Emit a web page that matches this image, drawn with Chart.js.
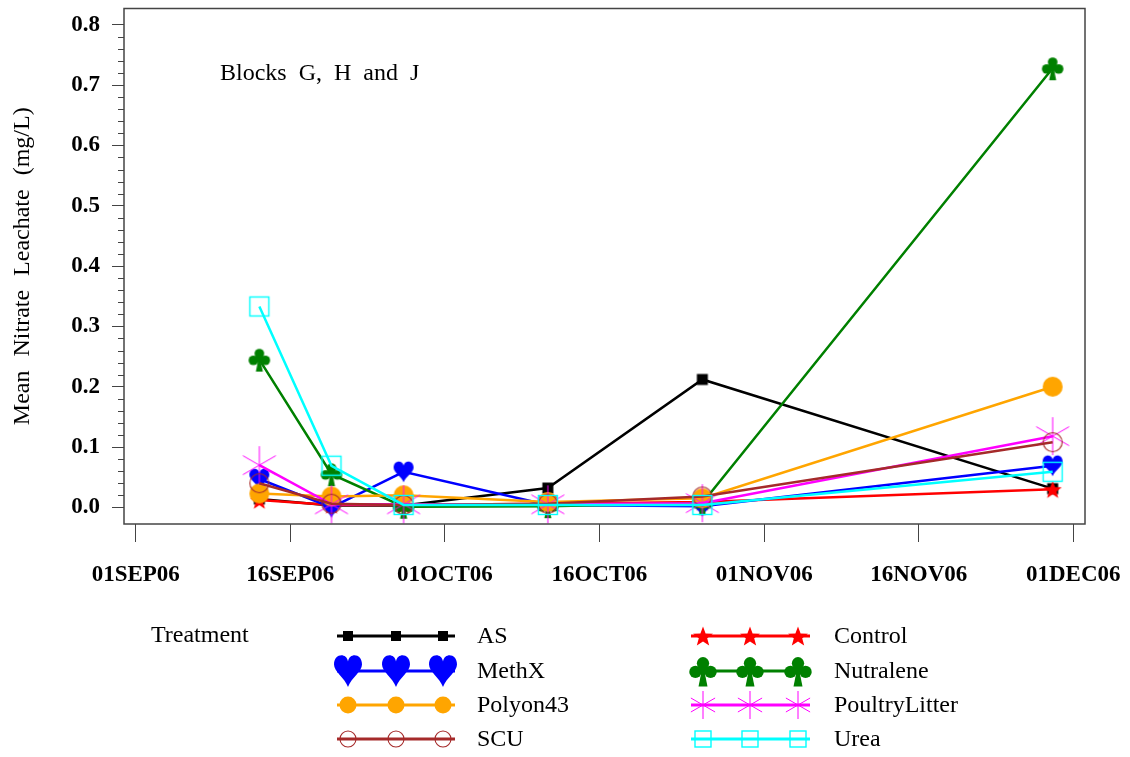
<!DOCTYPE html>
<html>
<head>
<meta charset="utf-8">
<script src="https://cdn.jsdelivr.net/npm/chart.js@4/dist/chart.umd.min.js"></script>
<style>
  html, body { margin: 0; padding: 0; background: #fff; }
  canvas { display: block; }
</style>
</head>
<body>
<canvas id="c" width="1130" height="757"></canvas>
<script>
// Sampling dates and treatment means (mg/L)
const sampleDates = ['2006-09-13', '2006-09-20', '2006-09-27', '2006-10-11', '2006-10-26', '2006-11-29'];

const AS            = [0.014, 0.003, 0.003, 0.032, 0.212, 0.031];
const Control       = [0.012, 0.004, 0.004, 0.006, 0.009, 0.030];
const MethX         = [0.047, 0.000, 0.059, 0.004, 0.002, 0.069];
const Nutralene     = [0.245, 0.055, 0.001, 0.002, 0.007, 0.728];
const Polyon43      = [0.023, 0.018, 0.020, 0.009, 0.015, 0.200];
const PoultryLitter = [0.070, 0.005, 0.005, 0.005, 0.007, 0.118];
const SCU           = [0.040, 0.006, 0.004, 0.006, 0.018, 0.108];
const Urea          = [0.333, 0.069, 0.004, 0.004, 0.004, 0.059];

const treatmentNames = ['AS', 'Control', 'MethX', 'Nutralene', 'Polyon43', 'PoultryLitter', 'SCU', 'Urea'];
const treatmentValues = [AS, Control, MethX, Nutralene, Polyon43, PoultryLitter, SCU, Urea];

const xTickDates  = ['2006-09-01', '2006-09-16', '2006-10-01', '2006-10-16', '2006-11-01', '2006-11-16', '2006-12-01'];
const xTickLabels = ['01SEP06', '16SEP06', '01OCT06', '16OCT06', '01NOV06', '16NOV06', '01DEC06'];
const yTickValues = [0.0, 0.1, 0.2, 0.3, 0.4, 0.5, 0.6, 0.7, 0.8];

const yTitle = 'Mean Nitrate Leachate (mg/L)';
const panelNote = 'Blocks G, H and J';
const legendTitle = 'Treatment';

// ---- helpers ----
const ORIGIN = Date.UTC(2006, 8, 1);
function dayNumber(iso) {
  const [y, m, d] = iso.split('-').map(Number);
  return (Date.UTC(y, m - 1, d) - ORIGIN) / 86400000;
}

const SERIF = "'Liberation Serif', 'Times New Roman', serif";

// per-treatment look: colour, marker kind, plot marker size, legend marker size
const looks = {
  AS:            { color: '#000000', kind: 'square',     plot: [11, 11], legend: [10, 10] },
  Control:       { color: '#ff0000', kind: 'star',       plot: [19, 19], legend: [21, 21] },
  MethX:         { color: '#0000ff', kind: 'heart',      plot: [20, 21], legend: [28, 32] },
  Nutralene:     { color: '#008000', kind: 'club',       plot: [22, 24], legend: [28, 31] },
  Polyon43:      { color: '#ffa500', kind: 'dot',        plot: [20, 20], legend: [17, 17] },
  PoultryLitter: { color: '#ff00ff', kind: 'asterisk',   plot: [38, 38], legend: [28, 28] },
  SCU:           { color: '#a52a2a', kind: 'ring',       plot: [19, 19], legend: [16, 16] },
  Urea:          { color: '#00ffff', kind: 'openSquare', plot: [19, 19], legend: [16, 16] }
};

function drawMarker(ctx, kind, color, cx, cy, w, h) {
  ctx.save();
  ctx.fillStyle = color;
  ctx.strokeStyle = color;
  switch (kind) {
    case 'square':
      ctx.fillRect(cx - w / 2, cy - h / 2, w, h);
      break;
    case 'openSquare':
      ctx.lineWidth = 1.4;
      ctx.strokeRect(cx - w / 2, cy - h / 2, w, h);
      break;
    case 'dot':
      ctx.beginPath(); ctx.arc(cx, cy, w / 2, 0, Math.PI * 2); ctx.fill();
      break;
    case 'ring':
      ctx.lineWidth = 1.1;
      ctx.beginPath(); ctx.arc(cx, cy, w / 2, 0, Math.PI * 2); ctx.stroke();
      break;
    case 'star': {
      const R = w / 2, r = R * 0.42;
      ctx.beginPath();
      for (let i = 0; i < 10; i++) {
        const a = -Math.PI / 2 + i * Math.PI / 5;
        const rr = i % 2 === 0 ? R : r;
        const px = cx + rr * Math.cos(a), py = cy + 1 + rr * Math.sin(a);
        if (i === 0) ctx.moveTo(px, py); else ctx.lineTo(px, py);
      }
      ctx.closePath(); ctx.fill();
      break;
    }
    case 'heart': {
      ctx.beginPath();
      ctx.moveTo(cx, cy + h * 0.5);
      ctx.bezierCurveTo(cx - w * 0.12, cy + h * 0.22, cx - w * 0.5, cy + h * 0.02, cx - w * 0.5, cy - h * 0.2);
      ctx.bezierCurveTo(cx - w * 0.5, cy - h * 0.55, cx - w * 0.06, cy - h * 0.58, cx, cy - h * 0.3);
      ctx.bezierCurveTo(cx + w * 0.06, cy - h * 0.58, cx + w * 0.5, cy - h * 0.55, cx + w * 0.5, cy - h * 0.2);
      ctx.bezierCurveTo(cx + w * 0.5, cy + h * 0.02, cx + w * 0.12, cy + h * 0.22, cx, cy + h * 0.5);
      ctx.fill();
      break;
    }
    case 'club': {
      const rc = w * 0.22;
      const lobes = [[cx, cy - h * 0.25], [cx - w * 0.27, cy + h * 0.03], [cx + w * 0.27, cy + h * 0.03]];
      lobes.forEach(([lx, ly]) => { ctx.beginPath(); ctx.arc(lx, ly, rc, 0, Math.PI * 2); ctx.fill(); });
      ctx.beginPath(); ctx.arc(cx, cy - h * 0.02, rc * 0.7, 0, Math.PI * 2); ctx.fill();
      ctx.beginPath();
      ctx.moveTo(cx - w * 0.05, cy);
      ctx.lineTo(cx - w * 0.16, cy + h * 0.5);
      ctx.lineTo(cx + w * 0.16, cy + h * 0.5);
      ctx.lineTo(cx + w * 0.05, cy);
      ctx.closePath(); ctx.fill();
      break;
    }
    case 'asterisk': {
      const R = w / 2;
      ctx.lineWidth = 1;
      ctx.beginPath();
      ctx.moveTo(cx, cy - R); ctx.lineTo(cx, cy + R);
      const dx = R * Math.cos(Math.PI / 6), dy = R * Math.sin(Math.PI / 6);
      ctx.moveTo(cx - dx, cy - dy); ctx.lineTo(cx + dx, cy + dy);
      ctx.moveTo(cx + dx, cy - dy); ctx.lineTo(cx - dx, cy + dy);
      ctx.stroke();
      break;
    }
  }
  ctx.restore();
}

function markerImage(kind, color, w, h) {
  const size = Math.ceil(Math.max(w, h) / 2) * 2 + 4;
  const cv = document.createElement('canvas');
  cv.width = size; cv.height = size;
  drawMarker(cv.getContext('2d'), kind, color, size / 2, size / 2, w, h);
  return cv;
}

const datasets = treatmentNames.map((name, i) => {
  const look = looks[name];
  return {
    label: name,
    data: sampleDates.map((d, k) => ({ x: dayNumber(d), y: treatmentValues[i][k] })),
    borderColor: look.color,
    backgroundColor: look.color,
    borderWidth: 2.5,
    tension: 0,
    pointStyle: markerImage(look.kind, look.color, look.plot[0], look.plot[1]),
    pointRadius: 6,
    pointHoverRadius: 6,
    order: treatmentNames.length - i
  };
});

// frame, minor ticks, axis title, note and treatment legend
const decorations = {
  id: 'decorations',
  afterDraw(chart) {
    const { ctx, chartArea: a, scales } = chart;
    ctx.save();
    // plot frame
    ctx.strokeStyle = '#444';
    ctx.lineWidth = 1.5;
    ctx.strokeRect(a.left, a.top, a.right - a.left, a.bottom - a.top);

    // minor y ticks
    ctx.lineWidth = 1;
    ctx.beginPath();
    for (let k = 1; k < 40; k++) {
      if (k % 5 === 0) continue;
      const py = Math.round(scales.y.getPixelForValue(k * 0.02)) + 0.5;
      ctx.moveTo(a.left - 6, py); ctx.lineTo(a.left, py);
    }
    ctx.stroke();

    // y-axis title
    ctx.fillStyle = '#000';
    ctx.font = `24px ${SERIF}`;
    if ('wordSpacing' in ctx) ctx.wordSpacing = '8px';
    ctx.textAlign = 'center';
    ctx.textBaseline = 'middle';
    ctx.save();
    ctx.translate(23, (a.top + a.bottom) / 2);
    ctx.rotate(-Math.PI / 2);
    ctx.fillText(yTitle, 0, 0);
    ctx.restore();

    // note inside the plot
    ctx.textAlign = 'left';
    ctx.textBaseline = 'alphabetic';
    if ('wordSpacing' in ctx) ctx.wordSpacing = '6px';
    ctx.fillText(panelNote, 220, 80);
    if ('wordSpacing' in ctx) ctx.wordSpacing = '0px';

    // legend
    ctx.textBaseline = 'middle';
    ctx.fillText(legendTitle, 151, 636);
    const rows = [636, 671, 705, 739];
    const cols = [
      { x1: 337, x2: 455, marks: [348, 396, 443], text: 477 },
      { x1: 691, x2: 810, marks: [703, 750, 798], text: 834 }
    ];
    treatmentNames.forEach((name, i) => {
      const col = cols[i % 2], y = rows[Math.floor(i / 2)];
      const look = looks[name];
      ctx.strokeStyle = look.color;
      ctx.lineWidth = 3;
      ctx.beginPath(); ctx.moveTo(col.x1, y); ctx.lineTo(col.x2, y); ctx.stroke();
      col.marks.forEach(mx => drawMarker(ctx, look.kind, look.color, mx, y, look.legend[0], look.legend[1]));
      ctx.fillStyle = '#000';
      ctx.fillText(name, col.text, y + 1);
    });
    ctx.restore();
  }
};

const tickFont = { family: SERIF, size: 23, weight: 'bold' };

// the plot box is fixed by the layout padding; tick labels may overhang it
function noOverhang(s) {
  s.paddingLeft = 0; s.paddingRight = 0; s.paddingTop = 0; s.paddingBottom = 0;
}

new Chart(document.getElementById('c'), {
  type: 'line',
  data: { datasets },
  options: {
    responsive: false,
    animation: false,
    events: [],
    layout: { padding: { left: 0, right: 45, top: 7, bottom: 0 } },
    plugins: { legend: { display: false }, tooltip: { enabled: false } },
    scales: {
      x: {
        type: 'linear',
        min: -1.14,
        max: 92.14,
        afterBuildTicks: s => { s.ticks = xTickDates.map(d => ({ value: dayNumber(d) })); },
        afterFit: s => { s.height = 233; noOverhang(s); },
        ticks: {
          callback: (v, i) => xTickLabels[i],
          font: tickFont, color: '#000', padding: 19,
          autoSkip: false, maxRotation: 0, minRotation: 0
        },
        grid: { drawOnChartArea: false, drawTicks: true, tickLength: 18, color: '#444', lineWidth: 1 },
        border: { display: false }
      },
      y: {
        min: -0.0276,
        max: 0.827,
        afterBuildTicks: s => { s.ticks = yTickValues.map(v => ({ value: v })); },
        afterFit: s => { s.width = 124; noOverhang(s); },
        ticks: { callback: v => Number(v).toFixed(1), font: tickFont, color: '#000', padding: 12 },
        grid: { drawOnChartArea: false, drawTicks: true, tickLength: 12, color: '#444', lineWidth: 1 },
        border: { display: false }
      }
    }
  },
  plugins: [decorations]
});
</script>
</body>
</html>
